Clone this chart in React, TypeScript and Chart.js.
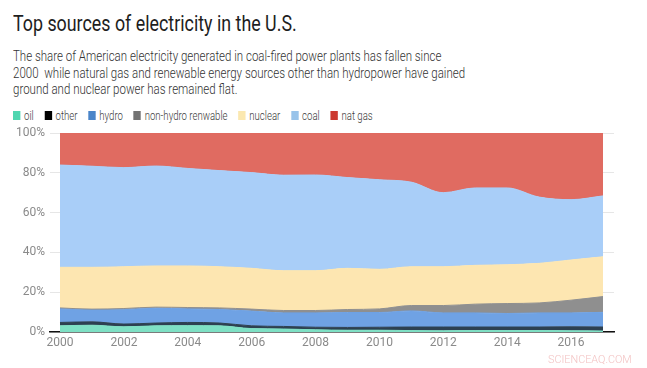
import React, { useEffect, useLayoutEffect, useRef } from "react";
import { Chart, registerables } from "chart.js";

Chart.register(...registerables);

// ---------- data ----------
const years = [2000, 2001, 2002, 2003, 2004, 2005, 2006, 2007, 2008, 2009, 2010, 2011, 2012, 2013, 2014, 2015, 2016, 2017];
const oil = [3.1, 3.4, 2.6, 3.1, 3.2, 3.1, 1.7, 1.5, 1.1, 0.9, 0.9, 0.7, 0.6, 0.7, 0.7, 0.7, 0.6, 0.5];
const other = [1.7, 1.7, 1.4, 1.4, 1.6, 1.4, 1.4, 1.3, 1.3, 1.4, 1.5, 1.8, 1.9, 1.8, 1.8, 1.8, 2.0, 2.0];
const hydro = [6.8, 5.9, 7.2, 7.4, 6.8, 6.8, 7.4, 6.8, 7.2, 7.5, 7.4, 8.1, 7.1, 7.1, 6.8, 7.1, 7.0, 7.4];
const nonHydro = [0.5, 0.5, 0.6, 0.6, 0.7, 0.8, 1.0, 1.2, 1.2, 1.5, 1.8, 2.7, 3.7, 4.4, 5.0, 5.0, 6.4, 7.9];
const nuclear = [20.4, 21.0, 21.0, 20.7, 20.9, 20.7, 20.5, 20.0, 20.0, 20.7, 19.9, 19.5, 19.5, 19.5, 19.5, 19.9, 20.2, 20.0];
const coal = [51.4, 50.8, 49.8, 50.2, 49.0, 48.3, 48.1, 48.0, 48.1, 45.6, 45.0, 42.5, 37.2, 38.9, 38.6, 33.3, 30.3, 30.6];
const natGas = [16.1, 16.7, 17.4, 16.6, 17.8, 18.9, 19.9, 21.2, 21.1, 22.4, 23.5, 24.7, 30.0, 27.6, 27.6, 32.2, 33.5, 31.6];

const seriesNames = ["oil", "other", "hydro", "non-hydro renwable", "nuclear", "coal", "nat gas"];
const seriesValues = [oil, other, hydro, nonHydro, nuclear, coal, natGas];
const fillColors = ["#7ee0c4", "#2d4051", "#6fa2e4", "#8f8f8f", "#fde6b1", "#a9cef8", "#e06b61"];
const legendColors = ["#4fd6b0", "#000000", "#4a85c9", "#737373", "#fbe8b0", "#98c3ea", "#cc3a31"];

const xTicks = [2000, 2002, 2004, 2006, 2008, 2010, 2012, 2014, 2016];
const yTicks = [0, 20, 40, 60, 80, 100];

const titleText = "Top sources of electricity in the U.S.";
const subtitleLines = [
  "The share of American electricity generated in coal-fired power plants has fallen since",
  "2000  while natural gas and renewable energy sources other than hydropower have gained",
  "ground and nuclear power has remained flat.",
];
const watermark = "SCIENCEAQ.COM";

// ---------- helpers ----------
function FitText(props: { target: number; style: React.CSSProperties; children: React.ReactNode }) {
  const ref = useRef<HTMLDivElement>(null);
  useLayoutEffect(() => {
    const el = ref.current;
    if (!el) return;
    el.style.transform = "none";
    const m = (el.querySelector("[data-measure]") as HTMLElement) || el;
    const w = m.getBoundingClientRect().width;
    if (w > 0) el.style.transform = `scaleX(${props.target / w})`;
  }, [props.target]);
  return (
    <div
      ref={ref}
      style={{ position: "absolute", width: "max-content", transformOrigin: "0 0", whiteSpace: "pre", ...props.style }}
    >
      {props.children}
    </div>
  );
}

function AreaChart() {
  const canvasRef = useRef<HTMLCanvasElement>(null);
  useEffect(() => {
    const canvas = canvasRef.current;
    if (!canvas) return;
    const chart = new Chart(canvas, {
      type: "line",
      data: {
        datasets: seriesValues.map((vals, i) => ({
          label: seriesNames[i],
          data: years.map((yr, j) => ({ x: yr, y: vals[j] })),
          fill: i === 0 ? "origin" : "-1",
          backgroundColor: fillColors[i],
          borderColor: fillColors[i],
          borderWidth: 1,
          pointRadius: 0,
          cubicInterpolationMode: "monotone" as const,
        })),
      },
      options: {
        animation: false,
        responsive: false,
        devicePixelRatio: 1,
        layout: { padding: { left: 0, right: 33, top: 13, bottom: 0 } },
        plugins: { legend: { display: false }, tooltip: { enabled: false } },
        scales: {
          x: {
            type: "linear",
            min: 1999.687,
            max: 2017.344,
            grid: { display: false, drawTicks: false },
            border: { display: true, color: "#111111", width: 1.5 },
            ticks: {
              color: "#8a8a8a",
              font: { family: "Roboto", size: 12 },
              padding: 4,
              callback: (v: any) => String(v),
            },
            afterBuildTicks: (s: any) => {
              s.ticks = xTicks.map((v) => ({ value: v }));
            },
            afterFit: (s: any) => {
              s.height = 36;
            },
          },
          y: {
            stacked: true,
            min: 0,
            max: 100,
            grid: { color: "#e6e6e6", drawTicks: false },
            border: { display: false },
            ticks: {
              color: "#8a8a8a",
              font: { family: "Roboto", size: 12 },
              padding: 5,
              callback: (v: any) => v + "%",
            },
            afterBuildTicks: (s: any) => {
              s.ticks = yTicks.map((v) => ({ value: v }));
            },
            afterFit: (s: any) => {
              s.width = 50;
            },
          },
        },
      },
    });
    return () => chart.destroy();
  }, []);
  return <canvas ref={canvasRef} width={647} height={248} style={{ display: "block", width: 647, height: 248 }} />;
}

export default function App() {
  return (
    <div
      style={{
        position: "fixed",
        left: 0,
        top: 0,
        width: 647,
        height: 368,
        background: "#ffffff",
        fontFamily: "Roboto, 'Open Sans', sans-serif",
        overflow: "hidden",
      }}
    >
      <FitText target={283.7} style={{ left: 13, top: 11, fontSize: 22, lineHeight: "26px", color: "#1e1e1e", fontWeight: 400 }}>
        {titleText}
      </FitText>
      <FitText target={428.4} style={{ left: 13, top: 48.4, fontSize: 15, lineHeight: "16.3px", color: "#333333", fontWeight: 300 }}>
        {subtitleLines.map((l, i) => (
          <div key={i} data-measure={i === 0 ? "1" : undefined} style={{ width: "max-content" }}>
            {l}
          </div>
        ))}
      </FitText>
      <FitText target={359.7} style={{ left: 13, top: 106.6, fontSize: 13, lineHeight: "18px", color: "#3a3a3a", fontWeight: 300 }}>
        <div style={{ display: "flex", alignItems: "center" }}>
          {seriesNames.map((n, i) => (
            <div key={n} style={{ display: "flex", alignItems: "center", marginRight: i === seriesNames.length - 1 ? 0 : 14.5 }}>
              <span style={{ display: "inline-block", width: 10, height: 9, background: legendColors[i], marginRight: 5 }} />
              <span>{n}</span>
            </div>
          ))}
        </div>
      </FitText>
      <div style={{ position: "absolute", left: 0, top: 120, width: 647, height: 248 }}>
        <AreaChart />
      </div>
      <FitText target={83.7} style={{ left: 548, top: 353.9, fontSize: 10, lineHeight: "12px", color: "#f3c3c3", fontWeight: 300 }}>
        {watermark}
      </FitText>
    </div>
  );
}
